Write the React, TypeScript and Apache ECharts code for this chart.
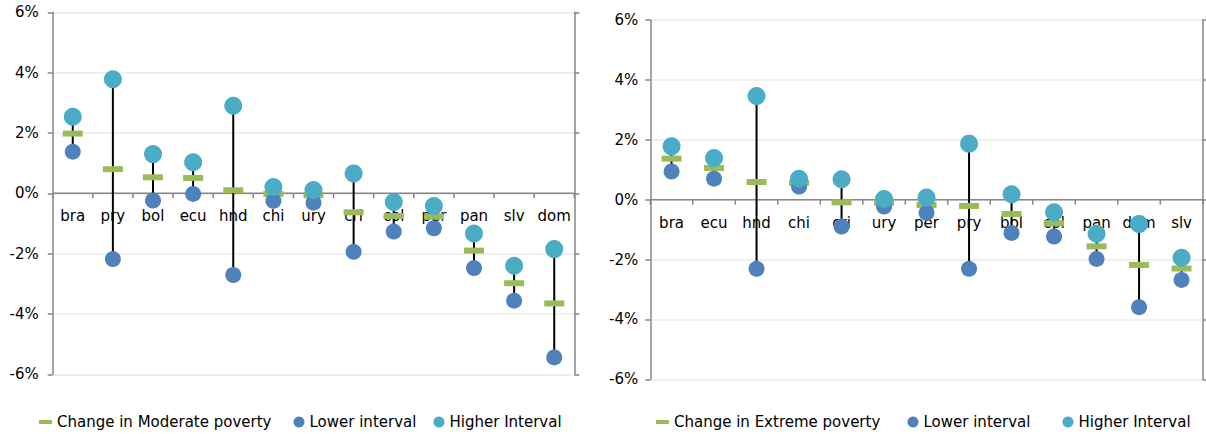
import React, { useEffect, useRef } from "react";
import * as echarts from "echarts";

const modCategories = ["bra", "pry", "bol", "ecu", "hnd", "chi", "ury", "cri", "col", "per", "pan", "slv", "dom"];
const modChange = [1.98, 0.8, 0.53, 0.51, 0.1, -0.02, -0.06, -0.63, -0.75, -0.77, -1.9, -2.98, -3.65];
const modLow = [1.38, -2.18, -0.24, -0.02, -2.71, -0.25, -0.31, -1.94, -1.27, -1.16, -2.48, -3.56, -5.44];
const modHigh = [2.54, 3.78, 1.3, 1.03, 2.9, 0.21, 0.11, 0.66, -0.29, -0.42, -1.33, -2.4, -1.85];

const extCategories = ["bra", "ecu", "hnd", "chi", "cri", "ury", "per", "pry", "bol", "col", "pan", "dom", "slv"];
const extChange = [1.37, 1.06, 0.59, 0.56, -0.09, -0.1, -0.18, -0.21, -0.48, -0.79, -1.56, -2.18, -2.3];
const extLow = [0.94, 0.7, -2.31, 0.44, -0.9, -0.23, -0.44, -2.31, -1.11, -1.23, -1.98, -3.59, -2.68];
const extHigh = [1.78, 1.39, 3.46, 0.7, 0.68, 0.02, 0.07, 1.87, 0.18, -0.42, -1.14, -0.81, -1.94];

const yTicks = { min: -6, max: 6, interval: 2 };

const GREEN = "#9BBB59";
const BLUE = "#4F81BD";
const TEAL = "#4BACC6";
const AXIS = "#868686";
const FONT = "DejaVu Sans";
const FS = 15;

function buildGrid(idx: number, cats: string[], change: number[], low: number[], high: number[], changeName: string) {
  const xAxis = {
    type: "category",
    gridIndex: idx,
    data: cats,
    boundaryGap: true,
    axisLine: { show: false },
    axisTick: { show: false },
    axisLabel: { show: false },
    splitLine: { show: false },
  };
  const yLeft = {
    type: "value",
    gridIndex: idx,
    min: yTicks.min,
    max: yTicks.max,
    interval: yTicks.interval,
    position: "left",
    axisLine: { show: true, lineStyle: { color: AXIS, width: 1.5 } },
    axisTick: { show: true, length: 5, lineStyle: { color: AXIS, width: 1.5 } },
    axisLabel: { formatter: "{value}%", margin: idx === 0 ? 14 : 12, fontSize: FS, color: "#000", fontFamily: FONT },
    splitLine: { show: true, lineStyle: { color: "#EBEBEB", width: 1.5 } },
  };
  const yRight = {
    type: "value",
    gridIndex: idx,
    min: yTicks.min,
    max: yTicks.max,
    interval: yTicks.interval,
    position: "right",
    axisLine: { show: true, lineStyle: { color: AXIS, width: 1.5 } },
    axisTick: { show: true, length: 5, lineStyle: { color: AXIS, width: 1.5 } },
    axisLabel: { show: false },
    splitLine: { show: false },
  };
  const whiskerData = cats.map((_, i) => [i, low[i], high[i]]);
  const n = cats.length;
  const series = [
    {
      type: "custom",
      name: "xaxis" + idx,
      xAxisIndex: idx,
      yAxisIndex: idx * 2,
      data: cats.map((_, i) => [i, 0]),
      encode: { x: 0, y: 1 },
      z: 1,
      silent: true,
      renderItem: (params: any, api: any) => {
        const i = params.dataIndex;
        const p = api.coord([api.value(0), 0]);
        const bw = api.size([1, 0])[0];
        const left = p[0] - bw / 2;
        const right = p[0] + bw / 2;
        const children: any[] = [
          {
            type: "line",
            shape: { x1: left, y1: p[1], x2: right, y2: p[1] },
            style: { stroke: AXIS, lineWidth: 1.5 },
          },
          {
            type: "line",
            shape: { x1: left, y1: p[1], x2: left, y2: p[1] + 5 },
            style: { stroke: AXIS, lineWidth: 1.5 },
          },
          {
            type: "text",
            x: p[0],
            y: p[1] + 23,
            style: {
              text: cats[i],
              fontSize: FS,
              fontFamily: FONT,
              fill: "#000",
              align: "center",
              verticalAlign: "middle",
            },
          },
        ];
        if (i === n - 1) {
          children.push({
            type: "line",
            shape: { x1: right, y1: p[1], x2: right, y2: p[1] + 5 },
            style: { stroke: AXIS, lineWidth: 1.5 },
          });
        }
        return { type: "group", children };
      },
    },
    {
      type: "custom",
      name: "whisker" + idx,
      xAxisIndex: idx,
      yAxisIndex: idx * 2,
      data: whiskerData,
      encode: { x: 0, y: [1, 2] },
      z: 2,
      silent: true,
      renderItem: (params: any, api: any) => {
        const x = api.value(0);
        const a = api.coord([x, api.value(1)]);
        const b = api.coord([x, api.value(2)]);
        return {
          type: "line",
          shape: { x1: a[0], y1: a[1], x2: b[0], y2: b[1] },
          style: { stroke: "#000", lineWidth: 2 },
        };
      },
    },
    {
      type: "scatter",
      name: changeName,
      xAxisIndex: idx,
      yAxisIndex: idx * 2,
      data: change,
      symbol: "rect",
      symbolSize: [20, 6],
      itemStyle: { color: GREEN, opacity: 1 },
      z: 3,
    },
    {
      type: "scatter",
      name: "Lower interval",
      xAxisIndex: idx,
      yAxisIndex: idx * 2,
      data: low,
      symbol: "circle",
      symbolSize: 16,
      itemStyle: { color: BLUE, opacity: 1 },
      z: 4,
    },
    {
      type: "scatter",
      name: "Higher Interval",
      xAxisIndex: idx,
      yAxisIndex: idx * 2,
      data: high,
      symbol: "circle",
      symbolSize: 18,
      itemStyle: { color: TEAL, opacity: 1 },
      z: 5,
    },
  ];
  return { xAxis, yAxes: [yLeft, yRight], series };
}

function legendItem(name: string, left: number, w: number, h: number) {
  return {
    data: [name],
    left,
    top: 414,
    padding: 0,
    itemWidth: w,
    itemHeight: h,
    selectedMode: false,
    textStyle: { fontSize: FS, color: "#000", fontFamily: FONT, lineHeight: 16 },
  };
}

export default function App() {
  const ref = useRef<HTMLDivElement>(null);
  useEffect(() => {
    if (!ref.current) return;
    const chart = echarts.init(ref.current, null, { renderer: "svg" });
    const g0 = buildGrid(0, modCategories, modChange, modLow, modHigh, "Change in Moderate poverty");
    const g1 = buildGrid(1, extCategories, extChange, extLow, extHigh, "Change in Extreme poverty");
    chart.setOption({
      animation: false,
      backgroundColor: "#fff",
      textStyle: { fontFamily: FONT },
      grid: [
        { left: 52.7, top: 12.3, width: 521.6, height: 362 },
        { left: 650.3, top: 20, width: 552.5, height: 359.3 },
      ],
      xAxis: [g0.xAxis, g1.xAxis],
      yAxis: [...g0.yAxes, ...g1.yAxes],
      legend: [
        legendItem("Change in Moderate poverty", 39, 13, 4),
        legendItem("Lower interval", 293.5, 11, 11),
        legendItem("Higher Interval", 433.5, 11, 11),
        legendItem("Change in Extreme poverty", 656, 13, 4),
        legendItem("Lower interval", 907.5, 11, 11),
        legendItem("Higher Interval", 1062.5, 11, 11),
      ],
      series: [...g0.series, ...g1.series],
    });
    return () => chart.dispose();
  }, []);
  return (
    <div
      ref={ref}
      style={{ position: "fixed", left: 0, top: 0, width: 1206, height: 434, background: "#fff" }}
    />
  );
}
